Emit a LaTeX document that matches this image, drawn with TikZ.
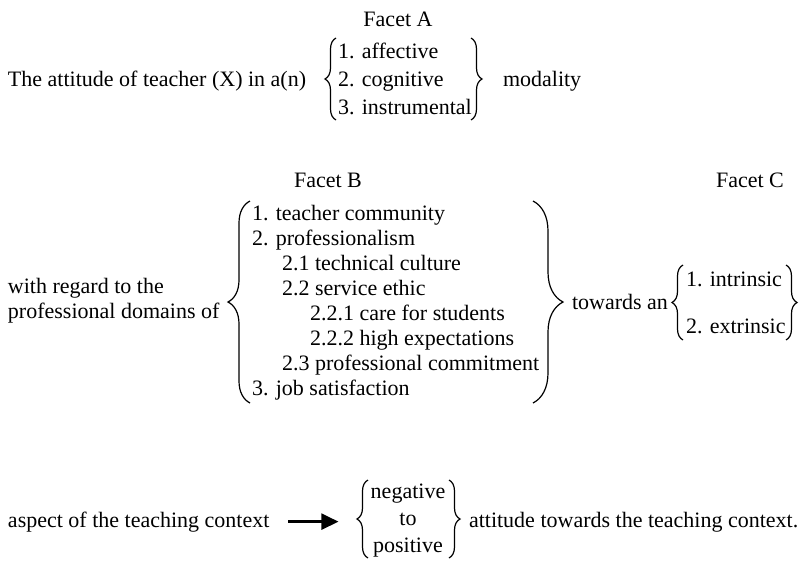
\documentclass[tikz,border=0pt]{standalone}
\usepackage{fontspec}
\setmainfont{Liberation Serif}
\usetikzlibrary{decorations.pathreplacing,arrows.meta}
\begin{document}
\begin{tikzpicture}[x=1pt,y=-1pt,
  txt/.style={inner sep=0pt,outer sep=0pt,font=\fontsize{22}{25}\selectfont},
  lt/.style={txt,anchor=base west},
  ct/.style={txt,anchor=base},
  brc/.style={decorate,decoration={brace,amplitude=#1},line width=1.2pt},
  brc/.default=10pt]
\useasboundingbox (0,0) rectangle (804,563);
% Facet A
\node[ct] (fa) at (398,26) {Facet A};
\node[lt] (atit) at (8,86) {The attitude of teacher (X) in a(n)};
\node[lt] (a1) at (338,58) {1. affective};
\node[lt] (a2) at (338,86) {2. cognitive};
\node[lt] (a3) at (338,114) {3. instrumental};
\coordinate (aLb) at (336,120); \coordinate (aLt) at (336,38);
\coordinate (aRt) at (471,38); \coordinate (aRb) at (471,120);
\draw[brc=11pt] (aLb) -- (aLt);
\draw[brc=11pt] (aRt) -- (aRb);
\node[lt] (mod) at (503,86) {modality};
% Facet B
\node[ct] (fb) at (328,187) {Facet B};
\node[txt,anchor=west,align=left] (wrt) at (8,301) {with regard to the\\professional domains of};
\node[lt] (b1) at (252,220) {1. teacher community};
\node[lt] (b2) at (252,245) {2. professionalism};
\node[lt] (b3) at (282,270) {2.1 technical culture};
\node[lt] (b4) at (282,295) {2.2 service ethic};
\node[lt] (b5) at (310,320) {2.2.1 care for students};
\node[lt] (b6) at (310,345) {2.2.2 high expectations};
\node[lt] (b7) at (282,370) {2.3 professional commitment};
\node[lt] (b8) at (252,395) {3. job satisfaction};
\coordinate (bLb) at (250,403); \coordinate (bLt) at (250,201);
\coordinate (bRt) at (533,201); \coordinate (bRb) at (533,403);
\draw[brc=22pt] (bLb) -- (bLt);
\draw[brc=30pt] (bRt) -- (bRb);
% Facet C
\node[ct] (fc) at (750,187) {Facet C};
\node[lt] (tow) at (572,309) {towards an};
\node[lt] (c1) at (686,286) {1. intrinsic};
\node[lt] (c2) at (686,333) {2. extrinsic};
\coordinate (cLb) at (683,340); \coordinate (cLt) at (683,265);
\coordinate (cRt) at (786,265); \coordinate (cRb) at (786,340);
\draw[brc=11pt] (cLb) -- (cLt);
\draw[brc=11pt] (cRt) -- (cRb);
% bottom
\node[lt] (asp) at (8,527) {aspect of the teaching context};
\node[ct] (n1) at (408,498) {negative};
\node[ct] (n2) at (408,525) {to};
\node[ct] (n3) at (408,552) {positive};
\coordinate (dLb) at (368,558); \coordinate (dLt) at (368,480);
\coordinate (dRt) at (449,480); \coordinate (dRb) at (449,558);
\draw[brc=11pt] (dLb) -- (dLt);
\draw[brc=11pt] (dRt) -- (dRb);
\coordinate (arrEnd) at ([xshift=69pt]asp.east);
\draw[line width=2.4pt,-{Triangle[length=17pt,width=16pt]}] ([xshift=19pt]asp.east) -- (arrEnd);
\node[lt] (att) at (469,527) {attitude towards the teaching context.};
\end{tikzpicture}
\end{document}
